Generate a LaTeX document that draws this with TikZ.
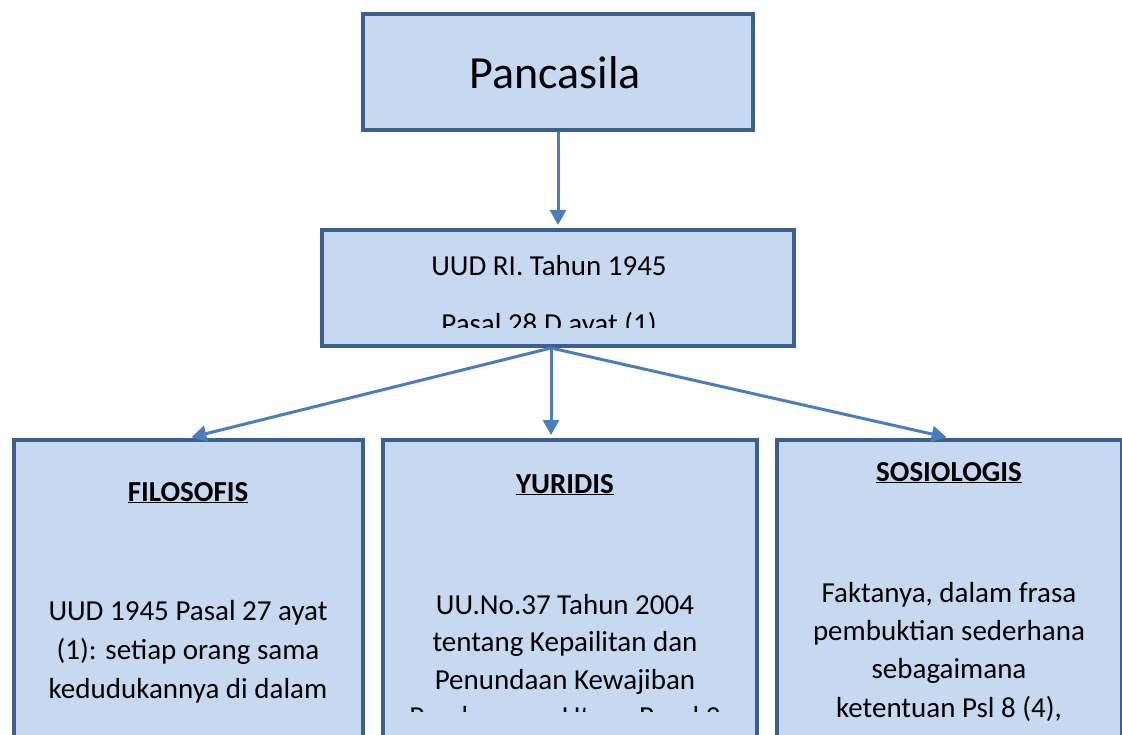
\documentclass[tikz,border=0pt]{standalone}
\usepackage{fontspec}
\setmainfont{Carlito}
\usetikzlibrary{arrows.meta}
\definecolor{boxfill}{HTML}{C6D9F1}
\definecolor{boxline}{HTML}{3B5F8E}
\definecolor{arrowblue}{HTML}{4A7EBB}
\def\first{\rule{0pt}{25pt}}

\begin{document}
\begin{tikzpicture}[x=1pt,y=-1pt,
    box/.style={draw=boxline,fill=boxfill,line width=4pt,anchor=north west,inner sep=0pt},
    link/.style={draw=arrowblue,line width=3pt,-{Triangle[length=15pt,width=16pt]},shorten >=3pt},
    txt/.style={align=center,inner sep=0pt,anchor=north},
    head/.style={inner sep=0pt,anchor=base,font=\fontsize{29}{35}\selectfont\bfseries}]
    \useasboundingbox (0,0) rectangle (1122,735);
    % boxes
    \node[box,minimum width=390,minimum height=116] (pancasila) at (361,12) {};
    \node[box,minimum width=472,minimum height=116] (uud) at (320,228) {};
    \node[box,minimum width=349,minimum height=320] (filosofis) at (12,438) {};
    \node[box,minimum width=374,minimum height=320] (yuridis) at (381,438) {};
    \node[box,minimum width=345,minimum height=320] (sosiologis) at (775,438) {};
    % texts
    \node[inner sep=0pt,anchor=base,font=\fontsize{46}{55}\selectfont] (title) at (555,89) {Pancasila};
    \begin{scope}
        \clip (324,232) rectangle (788,328);
        \node[txt,font=\fontsize{29}{39}\selectfont] (uudtext) at (549,250) {\first UUD RI. Tahun 1945\\[19pt]Pasal 28 D ayat (1)};
    \end{scope}
    \node[head] (filohead) at (188,501) {\underline{FILOSOFIS}};
    \node[head] (yurihead) at (565,493) {\underline{YURIDIS}};
    \node[head] (sosihead) at (949,481) {\underline{SOSIOLOGIS}};
    \node[txt,font=\fontsize{29}{39}\selectfont] (filobody) at (188,595) {\first UUD 1945 Pasal 27 ayat\\(1): setiap orang sama\\kedudukannya di dalam};
    \begin{scope}
        \clip (383,440) rectangle (753,711);
        \node[txt,font=\fontsize{29}{37.5}\selectfont] (yuribody) at (565,589) {\first UU.No.37 Tahun 2004\\tentang Kepailitan dan\\Penundaan Kewajiban\\Pembayaran Utang Pasal 2};
    \end{scope}
    \node[txt,font=\fontsize{29}{38.3}\selectfont] (sosibody) at (949,577) {\first Faktanya, dalam frasa\\pembuktian sederhana\\sebagaimana\\ketentuan Psl 8 (4),};
    % connectors
    \coordinate (fork) at ([xshift=-7pt]uud.south);
    \draw[link] (pancasila.south) -- (pancasila.south |- uud.north);
    \draw[link] (fork) -- (filosofis.north);
    \draw[link] (fork) -- (fork |- yuridis.north);
    \draw[link] (fork) -- (sosiologis.north);
\end{tikzpicture}
\end{document}
